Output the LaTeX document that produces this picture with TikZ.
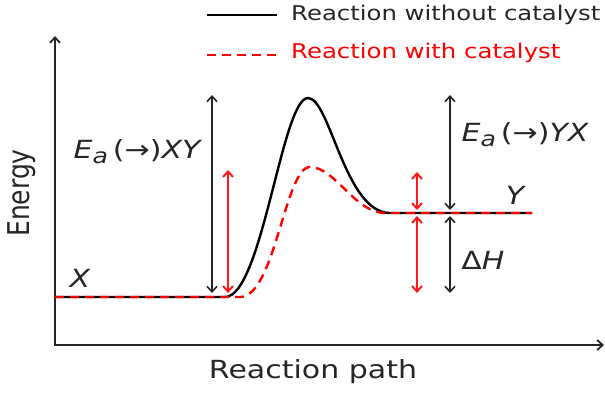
\documentclass[tikz,border=0pt]{standalone}
\usepackage{fontspec}
\usepackage{graphicx}
\setmainfont{DejaVu Sans}
\usetikzlibrary{arrows.meta}

\newcommand{\wide}[1]{\scalebox{1.2}[1]{#1}}
\newcommand{\actsub}{{\itshape E}\raisebox{-0.35ex}{\fontsize{21}{25}\selectfont\itshape a}\,}

\begin{document}
\begin{tikzpicture}[
    x=1pt, y=-1pt,
    >={Straight Barb[length=5.5pt,width=10pt]},
    axis/.style={line width=1.8pt, black!85},
    nocat/.style={line width=2.4pt, black},
    withcat/.style={line width=2.4pt, red, dash pattern=on 9pt off 6pt},
    gapblack/.style={<->, line width=1.6pt, black!85},
    gapred/.style={<->, line width=2pt, red!90},
    lbl/.style={font=\fontsize{25}{29}\selectfont, text=black!85, inner sep=0pt},
    axislbl/.style={font=\fontsize{25}{30}\selectfont, text=black!85, inner sep=0pt},
    legendtext/.style={font=\fontsize{20.3}{24}\selectfont, anchor=west, inner sep=0pt}
]
\useasboundingbox (0,0) rectangle (605,392);

% axes
\coordinate (origin) at (55,345);
\coordinate (ytop) at (55,36);
\coordinate (xend) at (604,345);
\draw[axis, <->] (ytop) -- (origin) -- (xend);
\node[axislbl, rotate=90] (energy) at (22,193) {\scalebox{1}[1.2]{Energy}};
\node[axislbl] (path) at (313,372) {\wide{Reaction path}};

% energy levels
\coordinate (xlevel) at (55,297);
\coordinate (ylevel) at (532,213);

% without catalyst
\draw[nocat] (xlevel) -- (225,297) .. controls (262,297) and (282,98) .. (308,98)
    .. controls (330,98) and (345,213) .. (390,213) -- (ylevel);
% with catalyst
\draw[withcat] (xlevel) -- (240,297) .. controls (275,297) and (285,167) .. (310,167)
    .. controls (335,167) and (355,213) .. (385,213) -- (ylevel);

% gaps on the left
\coordinate (topA) at (212,95);
\coordinate (baseA) at (212,293);
\coordinate (topB) at (228,170);
\coordinate (baseB) at (228,293);
\draw[gapblack] (topA) -- (baseA);
\draw[gapred] (topB) -- (baseB);

% gaps on the right
\coordinate (topC) at (450,95);
\coordinate (midC) at (450,210);
\coordinate (lowC) at (450,216);
\coordinate (baseC) at (450,293);
\coordinate (topD) at (417,172);
\coordinate (midD) at (417,210);
\coordinate (lowD) at (417,216);
\coordinate (baseD) at (417,293);
\draw[gapblack] (topC) -- (midC);
\draw[gapblack] (lowC) -- (baseC);
\draw[gapred] (topD) -- (midD);
\draw[gapred] (lowD) -- (baseD);

% labels
\node[lbl] (eaxy) at (137,152) {\wide{\actsub(→){\itshape XY}}};
\node[lbl] (eayx) at (525,135) {\wide{\actsub(→){\itshape YX}}};
\node[lbl] (xlbl) at (80,278) {\wide{\itshape X}};
\node[lbl] (ylbl) at (515,195) {\wide{\itshape Y}};
\node[lbl] (dh) at (483,260) {\wide{Δ{\itshape H}}};

% legend
\coordinate (legA) at (207,15);
\coordinate (legB) at (277,15);
\coordinate (legC) at (207,55);
\coordinate (legD) at (277,55);
\draw[nocat] (legA) -- (legB);
\draw[withcat] (legC) -- (legD);
\node[legendtext, text=black!85] (nocattext) at (291,15) {\wide{Reaction without catalyst}};
\node[legendtext, text=red] (cattext) at (291,53) {\wide{Reaction with catalyst}};

\end{tikzpicture}
\end{document}
